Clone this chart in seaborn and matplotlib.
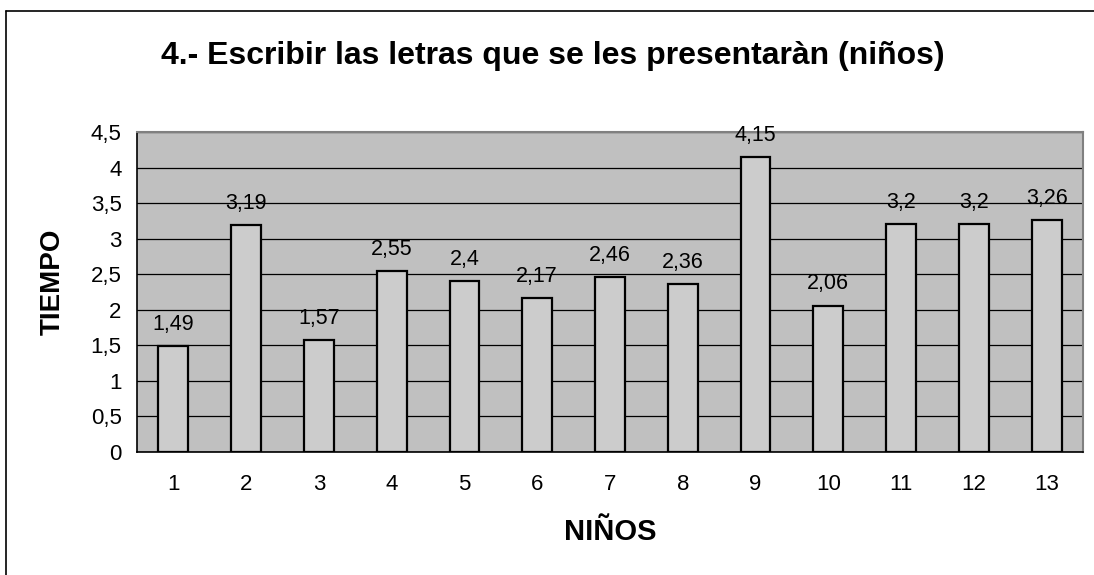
import matplotlib
matplotlib.use("Agg")
import matplotlib.pyplot as plt
import seaborn as sns
import pandas as pd
from matplotlib.ticker import FuncFormatter, MultipleLocator
from matplotlib.lines import Line2D

categories = ["1", "2", "3", "4", "5", "6", "7", "8", "9", "10", "11", "12", "13"]
values = [1.49, 3.19, 1.57, 2.55, 2.4, 2.17, 2.46, 2.36, 4.15, 2.06, 3.2, 3.2, 3.26]
title = "4.- Escribir las letras que se les presentaràn (niños)"
xlabel = "NIÑOS"
ylabel = "TIEMPO"

sns.set_style("white")
plt.rcParams['font.family'] = ['Liberation Sans', 'DejaVu Sans']
plt.rcParams['text.color'] = 'black'
plt.rcParams['axes.labelcolor'] = 'black'
plt.rcParams['xtick.color'] = 'black'
plt.rcParams['ytick.color'] = 'black'

df = pd.DataFrame({"nino": categories, "tiempo": values})

W, H = 1094, 575
fig = plt.figure(figsize=(W / 100, H / 100), dpi=100)
L, R, T, B = 137, 1083, 132, 452
ax = fig.add_axes([L / W, 1 - B / H, (R - L) / W, (B - T) / H])
ax.set_facecolor("#C0C0C0")
ax.set_axisbelow(True)

sns.barplot(data=df, x="nino", y="tiempo", color="#CCCCCC", edgecolor="black",
            linewidth=1.6, width=0.41, saturation=1, ax=ax)

ax.set_ylim(0, 4.5)
ax.set_xlim(-0.5, len(categories) - 0.5)
ax.yaxis.set_major_locator(MultipleLocator(0.5))
ax.yaxis.set_major_formatter(FuncFormatter(lambda v, p: ("%g" % v).replace(".", ",")))
ax.grid(axis="y", color="black", linewidth=0.9)

def fmt(v):
    return ("%g" % v).replace(".", ",")

for c in ax.containers:
    ax.bar_label(c, labels=[fmt(v) for v in values], padding=8, fontsize=15.5)

ax.set_xticks([i for i in range(len(categories))])
ax.set_xticklabels(categories)
ax.tick_params(axis="both", labelsize=16, direction="out", length=6, width=1, color="black")
ax.tick_params(axis="x", pad=16)
ax.tick_params(axis="y", pad=5)

ax.set_xticks([i - 0.5 for i in range(len(categories) + 1)], minor=True)
ax.tick_params(axis="x", which="major", length=0)
ax.tick_params(axis="x", which="minor", length=6, width=1, direction="out", color="black")

for s in ["left", "bottom"]:
    ax.spines[s].set_color("black")
    ax.spines[s].set_linewidth(1.2)
for s in ["top", "right"]:
    ax.spines[s].set_color("#808080")
    ax.spines[s].set_linewidth(1.5)

ax.set_xlabel("")
ax.set_ylabel("")
fig.text(610 / W, 1 - 532 / H, xlabel, ha="center", va="center", fontsize=21, fontweight="bold")
fig.text(53 / W, 1 - 282 / H, ylabel, ha="center", va="center", fontsize=20,
         fontweight="bold", rotation=90)

fig.text(553 / W, 1 - 56 / H, title, ha="center", va="center", fontsize=23, fontweight="bold")

# figure border (left and top edges visible)
fig.lines.append(Line2D([6 / W, 6 / W], [0, 1 - 11 / H], transform=fig.transFigure,
                        color="black", linewidth=1.2))
fig.lines.append(Line2D([6 / W, 1], [1 - 11 / H, 1 - 11 / H], transform=fig.transFigure,
                        color="black", linewidth=1.2))

fig.savefig("out.png", dpi=100)
